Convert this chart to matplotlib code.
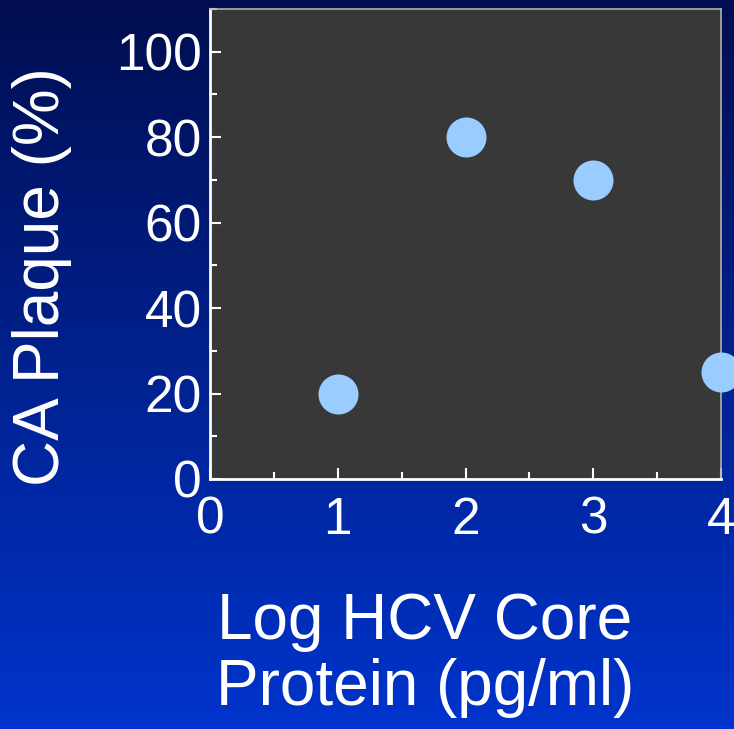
import matplotlib.pyplot as plt
import numpy as np
from matplotlib.ticker import MultipleLocator

# data
log_core = [1, 2, 3, 4]
plaque_pct = [20, 80, 70, 25]

x_ticks = [0, 1, 2, 3, 4]
y_ticks = [0, 20, 40, 60, 80, 100]

plt.rcParams['font.family'] = ['Liberation Sans', 'DejaVu Sans']

fig = plt.figure(figsize=(7.34, 7.29), dpi=100)

# blue gradient background
bg = fig.add_axes([0, 0, 1, 1])
grad = np.linspace(0, 1, 256).reshape(-1, 1)
top = np.array([0x00, 0x0e, 0x50]) / 255
bot = np.array([0x00, 0x34, 0xcc]) / 255
img = top + (bot - top) * grad[:, :, None]
bg.imshow(img, aspect='auto', extent=[0, 1, 0, 1])
bg.axis('off')

ax = fig.add_axes([210 / 734, 1 - 479 / 729, 511 / 734, 470 / 729])
ax.set_facecolor('#383838')

ax.scatter(log_core, plaque_pct, s=830, color='#99ccff', clip_on=False, zorder=3, linewidths=0)

ax.set_xlim(0, 4)
ax.set_ylim(0, 110)
ax.set_xticks(x_ticks)
ax.set_yticks(y_ticks)
ax.xaxis.set_minor_locator(MultipleLocator(0.5))
ax.yaxis.set_minor_locator(MultipleLocator(10))

ax.tick_params(which='both', direction='in', colors='white', labelsize=37, width=1.5)
ax.tick_params(which='major', length=8)
ax.tick_params(which='minor', length=5)
ax.tick_params(axis='x', pad=12)
ax.tick_params(axis='y', pad=6)

for side in ['left', 'bottom']:
    ax.spines[side].set_color('white')
    ax.spines[side].set_linewidth(2)
for side in ['top', 'right']:
    ax.spines[side].set_color('#b0b0b0')
    ax.spines[side].set_linewidth(1.2)

fig.text(42 / 734, 1 - 277 / 729, 'CA Plaque (%)', rotation=90, color='white',
         fontsize=46, ha='center', va='center')
fig.text(425 / 734, 1 - 655 / 729, 'Log HCV Core\nProtein (pg/ml)', color='white',
         fontsize=46, ha='center', va='center', linespacing=1.12)

fig.savefig('out.png', dpi=100)
